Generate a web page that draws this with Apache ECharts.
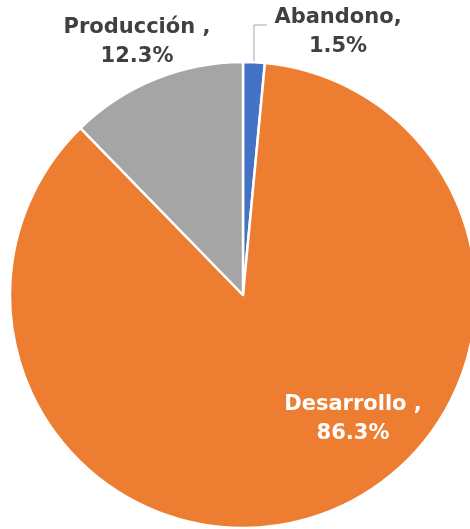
<!DOCTYPE html>
<html><head><meta charset="utf-8">
<script src="https://cdn.jsdelivr.net/npm/echarts@6/dist/echarts.min.js"></script>
<style>html,body{margin:0;padding:0;background:#fff}#c{width:470px;height:529px}</style>
</head><body><div id="c"></div>
<script>
const categories = ['Abandono', 'Desarrollo', 'Producción'];
const values = [1.5, 86.3, 12.3];
const labelTexts = ['Abandono,\n1.5%', 'Desarrollo ,\n86.3%', 'Producción ,\n12.3%'];
const colors = ['#4472C4', '#ED7D31', '#A5A5A5'];

const chart = echarts.init(document.getElementById('c'));
const font = 'DejaVu Sans';
const labelPos = [
  {x: 338, y: 32},
  {x: 353, y: 419},
  {x: 137, y: 42}
];
chart.setOption({
  animation: false,
  series: [{
    type: 'pie',
    center: [243, 295],
    radius: 233,
    startAngle: 90,
    clockwise: true,
    itemStyle: {borderColor: '#fff', borderWidth: 2.5},
    label: {fontFamily: font, fontWeight: 'bold', fontSize: 21, lineHeight: 29, align: 'center', overflow: 'none'},
    labelLayout: function (p) {
      const pos = labelPos[p.dataIndex];
      const r = {x: pos.x, y: pos.y, align: 'center', verticalAlign: 'middle'};
      if (p.dataIndex === 0 && p.labelLinePoints) {
        const s = p.labelLinePoints[0];
        r.labelLinePoints = [[s[0], s[1]], [s[0], 25], [s[0] + 13, 25]];
      }
      return r;
    },
    data: categories.map((c, i) => ({
      name: c,
      value: values[i],
      itemStyle: {color: colors[i]},
      label: {
        show: true,
        position: i === 1 ? 'inside' : 'outside',
        color: i === 1 ? '#fff' : '#404040',
        formatter: labelTexts[i]
      },
      labelLine: {show: i === 0, length: 20, length2: 10, lineStyle: {color: '#A6A6A6', width: 1}}
    }))
  }]
});
</script></body></html>
